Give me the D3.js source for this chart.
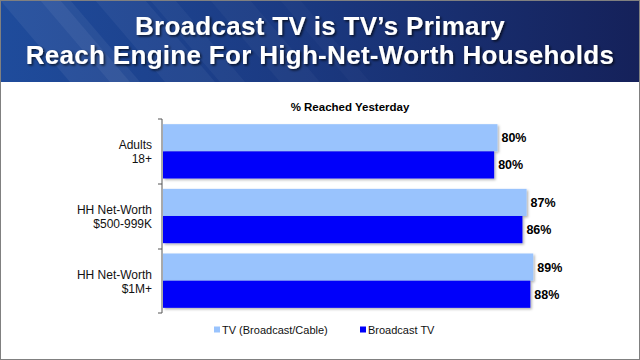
<!DOCTYPE html>
<html>
<head>
<meta charset="utf-8">
<script src="https://cdn.jsdelivr.net/npm/d3@7"></script>
<style>
  body { margin: 0; background: #fff; }
  svg { display: block; font-family: "Liberation Sans", Arial, sans-serif; }
</style>
</head>
<body>
<div id="chart"></div>
<script>
// data
const categories = [["Adults", "18+"], ["HH Net-Worth", "$500-999K"], ["HH Net-Worth", "$1M+"]];
const seriesNames = ["TV (Broadcast/Cable)", "Broadcast TV"];
const tvAll = [80.4, 87.4, 89.0];
const broadcastTV = [79.6, 86.4, 88.3];
const tvLabels = ["80%", "87%", "89%"];
const broadcastLabels = ["80%", "86%", "88%"];
const colors = ["#99c3fd", "#0000fa"];

const width = 640, height = 360;
const svg = d3.select("#chart").append("svg").attr("width", width).attr("height", height);

// header gradient
let defs = svg.append("defs");
let grad = defs.append("linearGradient").attr("id", "hdr").attr("x1", "0").attr("x2", "1").attr("y1", "0").attr("y2", "0");
grad.append("stop").attr("offset", "0").attr("stop-color", "#1f4c9c");
grad.append("stop").attr("offset", "0.45").attr("stop-color", "#1b3a82");
grad.append("stop").attr("offset", "1").attr("stop-color", "#15215a");

let shadow = defs.append("filter").attr("id", "txtShadow").attr("x", "-5%").attr("y", "-20%").attr("width", "110%").attr("height", "140%");
shadow.append("feDropShadow").attr("dx", 1.5).attr("dy", 1.5).attr("stdDeviation", 1.2).attr("flood-color", "#000").attr("flood-opacity", 0.7);

let barShadow = defs.append("filter").attr("id", "barShadow").attr("x", "-5%").attr("y", "-10%").attr("width", "110%").attr("height", "130%");
barShadow.append("feDropShadow").attr("dx", 1.5).attr("dy", 1.5).attr("stdDeviation", 0.8).attr("flood-color", "#000").attr("flood-opacity", 0.3);

svg.append("rect").attr("width", width).attr("height", height).attr("fill", "#fff");
svg.append("rect").attr("width", width).attr("height", 82).attr("fill", "url(#hdr)");

// diagonal streaks on the header
const streaks = [[0, 60], [40, 30], [95, 50], [150, 25], [210, 40], [280, 20]];
svg.append("g").selectAll("polygon").data(streaks).enter().append("polygon")
  .attr("points", d => `${d[0]},0 ${d[0] + d[1]},0 ${d[0] + d[1] + 70},82 ${d[0] + 70},82`)
  .attr("fill", "#ffffff")
  .attr("opacity", (d, i) => 0.06 - i * 0.007);

const titleLines = ["Broadcast TV is TV\u2019s Primary", "Reach Engine For High-Net-Worth Households"];
svg.append("g").selectAll("text").data(titleLines).enter().append("text")
  .attr("x", width / 2).attr("y", (d, i) => 35 + i * 29)
  .attr("text-anchor", "middle")
  .attr("fill", "#fff").attr("font-weight", "bold").attr("font-size", 26)
  .attr("letter-spacing", 0.3)
  .attr("filter", "url(#txtShadow)")
  .text(d => d);

// outer border
svg.append("rect").attr("x", 0.5).attr("y", 0.5).attr("width", width - 1).attr("height", height - 1)
  .attr("fill", "none").attr("stroke", "#808080").attr("stroke-width", 1);

// plot
const x = d3.scaleLinear().domain([0, 100]).range([163, 579]);
const y = d3.scaleBand().domain(d3.range(categories.length)).range([119, 313]).paddingInner(0.16).paddingOuter(0.08);
const sub = d3.scaleBand().domain([0, 1]).range([0, y.bandwidth()]);

svg.append("text")
  .attr("x", 350).attr("y", 111)
  .attr("text-anchor", "middle")
  .attr("font-weight", "bold").attr("font-size", 11.5)
  .text("% Reached Yesterday");

const rows = categories.map((c, i) => ({ i: i, vals: [tvAll[i], broadcastTV[i]], labels: [tvLabels[i], broadcastLabels[i]] }));

let g = svg.append("g").selectAll("g").data(rows).enter().append("g")
  .attr("transform", d => `translate(0,${y(d.i)})`);

g.selectAll("rect").data(d => d.vals).enter().append("rect")
  .attr("x", x(0))
  .attr("y", (d, j) => sub(j))
  .attr("width", d => x(d) - x(0))
  .attr("height", sub.bandwidth())
  .attr("fill", (d, j) => colors[j])
  .attr("filter", "url(#barShadow)");

g.selectAll("text.lbl").data(d => d.vals.map((v, j) => ({ v: v, t: d.labels[j] }))).enter().append("text")
  .attr("class", "lbl")
  .attr("x", d => x(d.v) + 4)
  .attr("y", (d, j) => sub(j) + sub.bandwidth() / 2 + 4.5)
  .attr("font-weight", "bold").attr("font-size", 12.5)
  .text(d => d.t);

// category axis
const axisG = svg.append("g").attr("transform", `translate(${x(0) - 1},0)`);
axisG.append("line").attr("x1", 0).attr("x2", 0).attr("y1", 119).attr("y2", 313).attr("stroke", "#555");
const bounds = [119, 184, 249, 313];
axisG.selectAll("line.tk").data(bounds).enter().append("line")
  .attr("class", "tk")
  .attr("x1", -4).attr("x2", 0)
  .attr("y1", d => d).attr("y2", d => d)
  .attr("stroke", "#555");

svg.append("g").selectAll("text").data(categories).enter().append("text")
  .attr("text-anchor", "end")
  .attr("font-size", 12)
  .attr("fill", "#111")
  .each(function (d, i) {
    let cy = y(i) + y.bandwidth() / 2;
    d3.select(this).selectAll("tspan").data(d).enter().append("tspan")
      .attr("x", 152)
      .attr("y", (t, k) => cy - 2 + k * 14)
      .text(t => t);
  });

// legend
const legendX = [214, 360];
const leg = svg.append("g").selectAll("g").data(seriesNames).enter().append("g")
  .attr("transform", (d, i) => `translate(${legendX[i]},330)`);
leg.append("rect").attr("x", 0).attr("y", -3.5).attr("width", 6).attr("height", 6).attr("fill", (d, i) => colors[i]);
leg.append("text").attr("x", 8).attr("y", 4).attr("font-size", 11).attr("fill", "#111").text(d => d);
</script>
</body>
</html>
